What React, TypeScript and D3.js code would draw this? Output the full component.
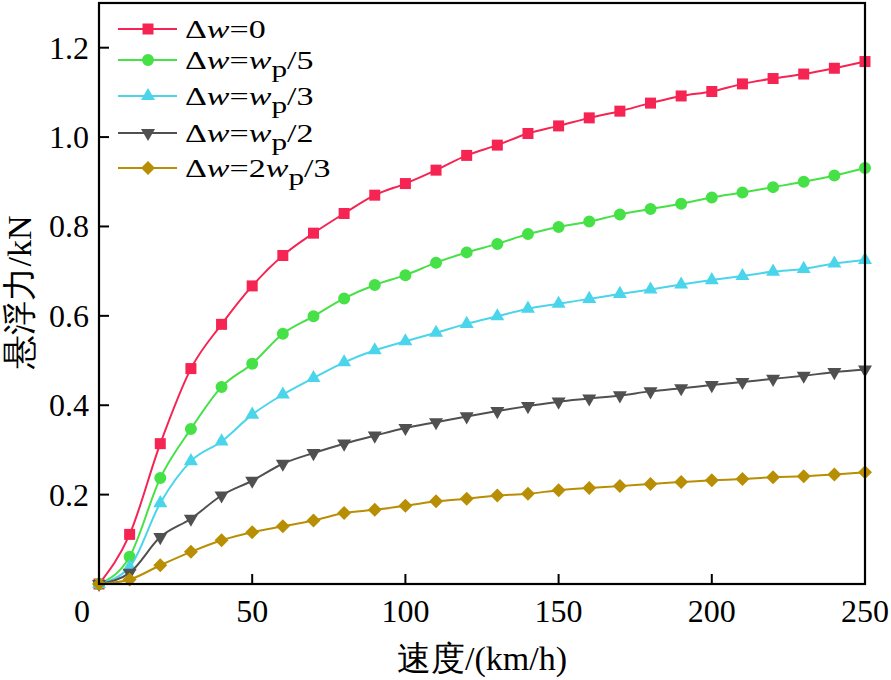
import React from "react";
import * as d3 from "d3";

const speeds = [0, 10, 20, 30, 40, 50, 60, 70, 80, 90, 100, 110, 120, 130, 140, 150, 160, 170, 180, 190, 200, 210, 220, 230, 240, 250];

const dw0 = [0, 0.111, 0.314, 0.482, 0.581, 0.667, 0.735, 0.785, 0.829, 0.870, 0.896, 0.926, 0.959, 0.982, 1.008, 1.025, 1.043, 1.058, 1.076, 1.092, 1.102, 1.119, 1.131, 1.141, 1.154, 1.169];
const dwP5 = [0, 0.061, 0.237, 0.347, 0.441, 0.493, 0.560, 0.599, 0.639, 0.669, 0.691, 0.719, 0.742, 0.761, 0.783, 0.799, 0.811, 0.827, 0.839, 0.851, 0.865, 0.876, 0.888, 0.900, 0.914, 0.931];
const dwP3 = [0, 0.038, 0.181, 0.275, 0.319, 0.379, 0.424, 0.461, 0.496, 0.523, 0.543, 0.562, 0.582, 0.599, 0.616, 0.627, 0.638, 0.649, 0.659, 0.670, 0.680, 0.689, 0.699, 0.705, 0.717, 0.725];
const dwP2 = [0, 0.025, 0.105, 0.146, 0.198, 0.231, 0.269, 0.293, 0.314, 0.332, 0.349, 0.362, 0.375, 0.387, 0.398, 0.408, 0.415, 0.422, 0.431, 0.438, 0.445, 0.452, 0.459, 0.466, 0.474, 0.480];
const dw2P3 = [0, 0.010, 0.042, 0.072, 0.098, 0.116, 0.129, 0.142, 0.159, 0.166, 0.175, 0.185, 0.191, 0.198, 0.202, 0.210, 0.215, 0.219, 0.224, 0.228, 0.232, 0.235, 0.239, 0.241, 0.245, 0.250];

const xTicks = [0, 50, 100, 150, 200, 250];
const yTicks = [0.2, 0.4, 0.6, 0.8, 1.0, 1.2];

type Legend = { pre: string; sub?: string; post?: string };
const series = [
  { values: dw0, color: "#F52452", marker: "square", label: { pre: "0" } as Legend },
  { values: dwP5, color: "#46E146", marker: "circle", label: { pre: "w", sub: "p", post: "/5" } as Legend },
  { values: dwP3, color: "#4AD5EA", marker: "triangle", label: { pre: "w", sub: "p", post: "/3" } as Legend },
  { values: dwP2, color: "#505050", marker: "triangleDown", label: { pre: "w", sub: "p", post: "/2" } as Legend },
  { values: dw2P3, color: "#B88F04", marker: "diamond", label: { pre: "2w", sub: "p", post: "/3" } as Legend },
];

const W = 891, H = 680;
const M = { left: 99, right: 865, top: 3, bottom: 584 };
const serif = "Times New Roman, Liberation Serif, Tinos, DejaVu Serif, serif";

function markerPath(kind: string): string {
  if (kind === "square") return d3.symbol(d3.symbolSquare, 121)() as string;
  if (kind === "circle") return d3.symbol(d3.symbolCircle, 113)() as string;
  if (kind === "triangle" || kind === "triangleDown") return d3.symbol(d3.symbolTriangle, 85)() as string;
  const r = 7;
  return `M0,${-r}L${r},0L0,${r}L${-r},0Z`;
}

function Marker({ kind, x, y, color }: { kind: string; x: number; y: number; color: string }) {
  const rot = kind === "triangleDown" ? " rotate(180)" : "";
  return <path d={markerPath(kind)} transform={`translate(${x},${y})${rot}`} fill={color} />;
}

function LegendText({ label, x, y }: { label: Legend; x: number; y: number }) {
  const parts: React.ReactNode[] = [];
  for (let i = 0; i < label.pre.length; i++) {
    const c = label.pre[i];
    parts.push(
      <tspan key={i} fontStyle={c === "w" ? "italic" : "normal"}>{c}</tspan>
    );
  }
  return (
    <g transform={`translate(${x},${y}) scale(1.36,1)`}>
      <text x={0} y={0} style={{ fontFamily: serif }} fontSize={25} fill="#000">
        <tspan>Δ</tspan>
        <tspan fontStyle="italic">w</tspan>
        <tspan>=</tspan>
        {parts}
        {label.sub ? <tspan dy={8} fontSize={23}>{label.sub}</tspan> : null}
        {label.post ? <tspan dy={label.sub ? -8 : 0}>{label.post}</tspan> : null}
      </text>
    </g>
  );
}

export default function App() {
  const x = d3.scaleLinear().domain([0, 250]).range([M.left, M.right]);
  const y = d3.scaleLinear().domain([0, 1.3]).range([M.bottom, M.top]);
  const line = d3
    .line<number>()
    .x((_, i) => x(speeds[i]))
    .y((d) => y(d))
    .curve(d3.curveMonotoneX);

  const legendY = [29, 60, 96, 133, 168];

  return (
    <svg
      width={W}
      height={H}
      style={{ position: "absolute", left: 0, top: 0, background: "#fff" }}
    >
      <rect x={0} y={0} width={W} height={H} fill="#fff" />
      {series.map((s, si) => (
        <g key={si}>
          <path d={line(s.values) as string} fill="none" stroke={s.color} strokeWidth={2} />
          {s.values.map((v, i) => (
            <Marker key={i} kind={s.marker} x={x(speeds[i])} y={y(v)} color={s.color} />
          ))}
        </g>
      ))}
      <rect
        x={M.left}
        y={M.top}
        width={M.right - M.left}
        height={M.bottom - M.top}
        fill="none"
        stroke="#000"
        strokeWidth={2.2}
      />
      {xTicks.map((t) => (
        <g key={t}>
          {t !== 0 && t !== 250 ? (
            <line x1={x(t)} x2={x(t)} y1={M.bottom} y2={M.bottom - 10} stroke="#000" strokeWidth={2} />
          ) : null}
          <text
            x={x(t) + (t === 0 ? -17 : 0)}
            y={622}
            textAnchor="middle"
            style={{ fontFamily: serif }}
            fontSize={32}
            fill="#000"
          >
            {t}
          </text>
        </g>
      ))}
      {yTicks.map((t) => (
        <g key={t}>
          <line x1={M.left} x2={M.left + 10} y1={y(t)} y2={y(t)} stroke="#000" strokeWidth={2} />
          <text
            x={89}
            y={y(t) + 11}
            textAnchor="end"
            style={{ fontFamily: serif }}
            fontSize={32}
            fill="#000"
          >
            {t.toFixed(1)}
          </text>
        </g>
      ))}
      <text x={482} y={670} textAnchor="middle" style={{ fontFamily: serif }} fontSize={34} fill="#000">
        速度/(km/h)
      </text>
      <text
        transform={`translate(31,${292}) rotate(-90)`}
        textAnchor="middle"
        style={{ fontFamily: serif }}
        fontSize={34}
        fill="#000"
      >
        悬浮力/kN
      </text>
      {series.map((s, i) => (
        <g key={i}>
          <line x1={118} x2={177} y1={legendY[i]} y2={legendY[i]} stroke={s.color} strokeWidth={2} />
          <Marker kind={s.marker} x={148} y={legendY[i]} color={s.color} />
          <LegendText label={s.label} x={185} y={legendY[i] + 9} />
        </g>
      ))}
    </svg>
  );
}
